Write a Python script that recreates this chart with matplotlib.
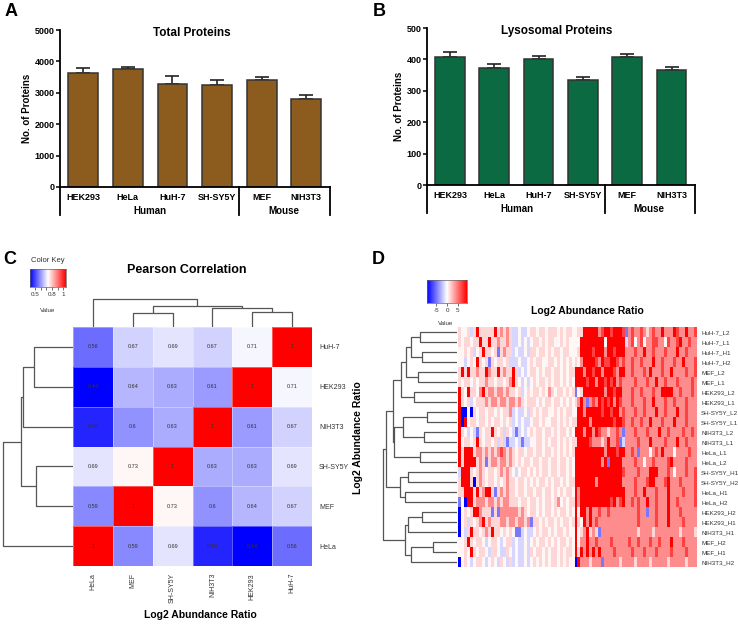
import numpy as np
import matplotlib.pyplot as plt
from matplotlib.colors import LinearSegmentedColormap
import matplotlib.transforms as mtransforms

W, H = 738, 624
plt.rcParams['font.family'] = ['Liberation Sans', 'DejaVu Sans']
fig = plt.figure(figsize=(W / 100, H / 100), dpi=100)

# ---------------- data ----------------
cells = ["HEK293", "HeLa", "HuH-7", "SH-SY5Y", "MEF", "NIH3T3"]
total_mean = [3630, 3760, 3290, 3260, 3420, 2810]
total_err = [150, 70, 240, 150, 70, 120]
lyso_mean = [407, 372, 400, 334, 408, 367]
lyso_err = [15, 12, 12, 11, 8, 10]

corr_rows = ["HuH-7", "HEK293", "NIH3T3", "SH-SY5Y", "MEF", "HeLa"]
corr_cols = ["HeLa", "MEF", "SH-SY5Y", "NIH3T3", "HEK293", "HuH-7"]
corr = [
    [0.56, 0.67, 0.69, 0.67, 0.71, 1],
    [0.44, 0.64, 0.63, 0.61, 1, 0.71],
    [0.48, 0.60, 0.63, 1, 0.61, 0.67],
    [0.69, 0.73, 1, 0.63, 0.63, 0.69],
    [0.59, 1, 0.73, 0.60, 0.64, 0.67],
    [1, 0.59, 0.69, 0.48, 0.44, 0.56],
]
# merges: (child a, child b, height); leaves 0..n-1 in display order
corr_top_merges = [(1, 2, 14), (4, 5, 15), (3, 7, 19.5), (6, 8, 21), (0, 9, 28)]
corr_left_merges = [(0, 1, 38.7), (6, 2, 49.7), (3, 4, 37), (7, 8, 52.3), (9, 5, 70.3)]

ratio_rows = ["HuH-7_L2", "HuH-7_L1", "HuH-7_H1", "HuH-7_H2", "MEF_L2", "MEF_L1",
              "HEK293_L2", "HEK293_L1", "SH-SY5Y_L2", "SH-SY5Y_L1", "NIH3T3_L2", "NIH3T3_L1",
              "HeLa_L1", "HeLa_L2", "SH-SY5Y_H1", "SH-SY5Y_H2", "HeLa_H1", "HeLa_H2",
              "HEK293_H2", "HEK293_H1", "NIH3T3_H1", "MEF_H2", "MEF_H1", "NIH3T3_H2"]
# colour level read per column (B strong blue ... R strong red)
levels = {'B': -9.5, 'b': -5.0, 'c': -1.5, '.': 0.3, 'p': 1.5, 'q': 4.3, 'r': 7.0, 'R': 9.5}
ratio_cells = [
    "p..pc" "p" "R" "ppppp" "R" "pqpqp" "cc.cc." "pp.pp.ppp.p.pp." ".pp" "RRRRR" "qr" "RRrRRRr" "b" "qrqqrqpqrqqRqqqRrqqRqqr",
    "p.pp.p" "pR" "pp" "R" "ppqppqp" "cc.c.c" ".pp.p.pp..p.p.." "..R" "RRRRRRR" "." "RRRRRR" "c" "qr.qr.qqrrqq.rqqrRqqrqq",
    "..p.pc.p" "R" "pp.p" "b" "pqpp" "c.cc.c" "pp.pp.p.pp.pp.." ".pR" "RRRrRRR" "q" "RRrRRR" "q" "qqrqqRqqrqqqrqqqRqqrqqq",
    "..c.p." "R" "p.p" "b" "p.pp.pc" "cc.cc." "p.pp..pp.p.p.p." "p.q" "RRRRrqR" "r" "rRRrqr" "q" "qrqqrqqqRqqrqqqrqqRqqqr",
    "pR" "p" "R" "ppqpp" "R" "qpp" "R" "pqpp" "R" "pc.c." "pp.p.pp.pp.p.pp" "RRR" "qRRrRRq" "R" "RRrqRR" "q" "qrqqqrqRqqqrqqRqqqqrqqr",
    "p.pp.p.ppqpp.pp.pq" "R" "p.c.c" ".p.pp.p.pp.p.p." "RRR" "RrRRqRR" "r" "RrRqrq" "q" "qqrqqqrqqRqqrqqqrqqqqrq",
    "R" "p.Rpp.q" "R" "pqqpqqpqp" "p.pc.p" ".pp.p.qp.pp.p.p" "b.p" "RRRRRRR" "q" "RRrRRq" "q" "qrqqrqqqrqqRRRRqqrqqqrq",
    "R" "p.pc.pp" "pqpqqpqqpq" "qpqp.p" "pp.p.pp.pp.p.p." "pqR" "qbqrqRr" "R" "rRqRrq" "q" "qrqqqrqqRqqqrqqrqqqrqqq",
    "R" "BB" "." "B" "p.pp.pp.p.ppq" "c.cc.c" "p.p.pp..p.p.pp." ".RR" "qRRRRRr" "R" "RrRRqr" "q" "qqrqqrqqqRqqrqqqRqqrqqq",
    "R" "B" "R" ".pp.pp.p.pp.p.p" "c.c.cc" ".pp.p..pp.p.p.p" "pRR" "RRqRRRR" "R" "RRrRRr" "q" "qrqqrqqRqqqrqqqRqqqrqqq",
    "R" "p.c.c" "b" "p.pp" "R" "p.pcp." "cbc.c." "p.pp.pp.p.pp.p." "RRR" "qRRqRrq" "q" "pqqrqb" "q" "qqrqqqrqqqRqqrqqqqrqqrq",
    "R" ".pp.p" "R" "p.pp.pcp" "cbcc.cbcc" "..pp.p.pp.p.p.p" "pRR" "RRrqqqp" "q" "Rqqrbc" "q" "qqqrqqqRqqqqrqqqRqqrqqq",
    "R" "p" "RRR" "pqqpqpqpqrqpq" "p.pp.p" "p.pp.pp.p.p.p.p" "RRR" "RRRRRRR" "q" "RRRrRR" "q" "qrqbqqq.qrqRqqq.qqqqrqq",
    "R" "p" "RRRR" "pqp" "b" "pqqpqqpq" "p.p.pp" ".pp.pp.pp.pp.p." "RRR" "RRRRRRq" "R" "bRRRRq" "q" "qqrqq.qqrqqqqrRqqqqrqqq",
    "c" "RRR" "p.pqp.pp.pqpqp" ".c.pp." "p.p.pp.pp.pp.p." "RRR" "RRRRRRR" "R" "RRRRRr" "q" "qqqrqqqRRRqqqrq.qqqrqqr",
    "p" "R" "RR" "p" "B" "pqp.pp.p.pqp" "p.pp.p" ".p.pp.p.pp.p.pp" "RRR" "RRRRqRR" "R" "RRRRRq" "q" "qqrqqqrRRqqqrRqqqrqqqqr",
    "pp" "RRR" "p" "R" "pq" "RR" "p" "b" "pqpqp" "p.pp.p" "p.pp.pp.p.p.pp." "RqR" "RRRRRRR" "R" "RRRRRR" "q" "qqrqqRqqqrqqqRqqqqrqqqr",
    "b" "." "B" "RR" "pqqqpqqpqpqqp" "pp.pp." "pp.p.pp.pq.p.pp" "RqR" "RRRRRRR" "R" "RrRqrR" "q" "qrqrqqRqqrqqqRqqrqqqqqr",
    "B" ".p.p" "RRq" "ppp" "b" "p" "b" "qqqq" "qqpqp." "pp.p.pp.p.pp.p." "R.R" "RqRqqrq" "q" "rqqqqq" "q" "qqqrqqbqqrqqqRqqqrqqqqq",
    "B" ".pcp.pqR" "pqpppqqpq" "qpqqpq" "b" "pp.p.pp.p.pp.p" "Rp." "RqRqrqq" "q" "qqqqqq" "q" "qqqrqqqqqrqqqRqqqqrqqqq",
    "B" ".cpRpp.pqp" "R" "pp.p.p" ".bbc.c" "c.p.pp.p.pp.p.." "R.p" "qRpqpbq" "q" "qqqqqq" "q" "qqqpqqqqpqqqqqqqqpqqqqp",
    "..p" "R" "p.pp.c.pp.c.pp" "c.cc.c" ".p.pp.p.p.pp.p." "R.q" "qRqqrqq" "q" "qrqqqq" "q" "rqqrqqqrqqrqqqRqqqrqqqq",
    "..p." "R" "p.pp.cpp.ccp." "c.cc.c" "p.pp.p.pp.p.pp." "RpR" "qRqRqRq" "q" "qqrqqq" "q" "qrqqqrqqqrqqqqrqqqqrqqq",
    "B" ".p.c.pp.c.p.cp.cp" "c.cc.c" ".p.p.p.pp.p.p.." "BRq" "qqpqqqb" "q" "qqqqpq" "q" "qqpqqqqpqqqqqpqqqqqpqqq",
]
ratio_merges = [(0, 1, 37), (2, 3, 34.7), (24, 25, 46.3), (4, 5, 38.7), (26, 27, 51.3),
                (6, 7, 42.7), (28, 29, 56), (8, 9, 30.3), (10, 11, 32.7), (31, 32, 53.7),
                (12, 13, 37), (33, 34, 62.7), (30, 35, 63.7), (14, 15, 48.7), (16, 17, 52),
                (37, 38, 57), (18, 19, 34.7), (40, 20, 48.7), (21, 22, 24.3), (42, 23, 46.3),
                (41, 43, 52), (36, 39, 71), (45, 44, 73.7)]

ratio = np.array([[levels[c] for c in row.ljust(80, '.')[:80]] for row in ratio_cells])

bwr = LinearSegmentedColormap.from_list("bwr2", ["#0000FF", "#FFFFFF", "#FF0000"])


def px_axes(x0, y0, x1, y1):
    return fig.add_axes([x0 / W, 1 - y1 / H, (x1 - x0) / W, (y1 - y0) / H])


def bar_panel(ax, vals, errs, color, title, ymax, step, title_x):
    x = np.arange(len(cells))
    ax.bar(x, vals, width=0.67, color=color, edgecolor='#333333', linewidth=1.1, zorder=2)
    ax.errorbar(x, vals, yerr=[np.zeros(len(vals)), errs], fmt='none', ecolor='#222222',
                elinewidth=1.2, capsize=5, capthick=1.2, zorder=1)
    ax.set_xlim(-0.52, 5.53)
    ax.set_ylim(0, ymax)
    ax.set_yticks(np.arange(0, ymax + 1, step))
    for s in ['top', 'right']:
        ax.spines[s].set_visible(False)
    for s in ['left', 'bottom']:
        ax.spines[s].set_linewidth(1.3)
    ax.tick_params(axis='y', length=3, width=1.1, labelsize=6.5, pad=1)
    for lab in ax.get_yticklabels():
        lab.set_fontweight('bold')
    ax.set_xticks(x)
    ax.set_xticklabels(cells, fontsize=6.5, fontweight='bold')
    ax.tick_params(axis='x', length=0, pad=4)
    ax.set_ylabel("No. of Proteins", fontsize=7, fontweight='bold', labelpad=2)
    ax.text(title_x, 0.98, title, transform=ax.transAxes, ha='center', va='center',
            fontsize=8.5, fontweight='bold')
    tr = mtransforms.blended_transform_factory(ax.transData, ax.transAxes)
    ax.text(1.5, -0.15, "Human", transform=tr, ha='center', va='center', fontsize=7, fontweight='bold')
    ax.text(4.5, -0.15, "Mouse", transform=tr, ha='center', va='center', fontsize=7, fontweight='bold')
    for xv in [-0.52, 3.5, 5.53]:
        ax.plot([xv, xv], [0, -0.18], transform=tr, color='black', lw=1.3, clip_on=False)


def dendro(ax, merges, n, orient):
    pos = list(np.arange(n) + 0.5)
    hgt = [0.0] * n
    for a, b, h in merges:
        xs = [pos[a], pos[a], pos[b], pos[b]]
        ys = [hgt[a], h, h, hgt[b]]
        if orient == 'left':
            ax.plot(ys, xs, color='#555555', lw=0.9, solid_capstyle='butt')
        else:
            ax.plot(xs, ys, color='#555555', lw=0.9, solid_capstyle='butt')
        pos.append((pos[a] + pos[b]) / 2)
        hgt.append(h)
    ax.axis('off')


# ---------------- A ----------------
axA = px_axes(60, 30, 330, 187)
bar_panel(axA, total_mean, total_err, '#8C5C1F', "Total Proteins", 5000, 1000, 0.49)
# ---------------- B ----------------
axB = px_axes(427, 28, 695, 185)
bar_panel(axB, lyso_mean, lyso_err, '#0B6A42', "Lysosomal Proteins", 500, 100, 0.485)

for lab, (x, y) in zip("ABCD", [(11, 11), (379, 11), (10, 259), (378, 259)]):
    fig.text(x / W, 1 - y / H, lab, fontsize=13, fontweight='bold', ha='center', va='center')

# ---------------- C ----------------
axC = px_axes(73, 327, 312, 566)
axC.pcolormesh(np.array(corr), cmap=bwr, vmin=0.44, vmax=1.0, edgecolors=(1, 1, 1, 0.35), linewidth=0.5)
axC.set_xlim(0, 6)
axC.set_ylim(6, 0)
for i in range(6):
    for j in range(6):
        v = corr[i][j]
        axC.text(j + 0.5, i + 0.5, "1" if v == 1 else ("%.2f" % v).rstrip('0'), ha='center', va='center',
                 fontsize=4, color='#333333')
axC.set_xticks(np.arange(6) + 0.5)
axC.set_xticklabels(corr_cols, rotation=90, fontsize=5, color='#333333', va='top')
axC.set_yticks(np.arange(6) + 0.5)
axC.set_yticklabels(corr_rows, fontsize=5, color='#333333')
axC.yaxis.tick_right()
axC.tick_params(length=0, pad=5)
for s in axC.spines.values():
    s.set_visible(False)

axCl = px_axes(0, 327, 73, 566)
dendro(axCl, corr_left_merges, 6, 'left')
axCl.set_ylim(6, 0)
axCl.set_xlim(73, 0)

axCt = px_axes(73, 290, 312, 327)
dendro(axCt, corr_top_merges, 6, 'top')
axCt.set_xlim(0, 6)
axCt.set_ylim(0, 37)

fig.text(187 / W, 1 - 270 / H, "Pearson Correlation", fontsize=9, fontweight='bold', ha='center', va='center')
fig.text(200 / W, 1 - 615 / H, "Log2 Abundance Ratio", fontsize=7.5, fontweight='bold', ha='center', va='center')
fig.text(358 / W, 1 - 438 / H, "Log2 Abundance Ratio", fontsize=7.5, fontweight='bold', ha='center',
         va='center', rotation=90)

# colour key C
axKc = px_axes(30, 269, 66, 287)
axKc.imshow(np.linspace(0, 1, 256)[None, :], cmap=bwr, aspect='auto', extent=[0.41, 1.05, 0, 1])
axKc.set_xlim(0.41, 1.05)
axKc.set_yticks([])
axKc.set_xticks([0.5, 0.6, 0.7, 0.8, 0.9, 1.0])
axKc.set_xticklabels(["0.5", "", "", "0.8", "", "1"], fontsize=4.5, color='#333333')
axKc.tick_params(axis='x', length=2, width=0.5, pad=1.5, color='#333333')
for s in axKc.spines.values():
    s.set_linewidth(0.5)
    s.set_color('#666666')
fig.text(48 / W, 1 - 260 / H, "Color Key", fontsize=5.5, ha='center', va='center', color='#333333')
fig.text(48 / W, 1 - 311 / H, "Value", fontsize=4.5, ha='center', va='center', color='#333333')

# ---------------- D ----------------
axD = px_axes(458, 327, 697, 567)
axD.imshow(ratio, cmap=bwr, vmin=-9.5, vmax=9.5, aspect='auto', interpolation='nearest',
           extent=[0, ratio.shape[1], len(ratio_rows), 0])
axD.set_xticks([])
axD.set_yticks(np.arange(len(ratio_rows)) + 0.5)
axD.set_yticklabels(ratio_rows, fontsize=4.5, color='#333333')
axD.yaxis.tick_right()
axD.tick_params(length=0, pad=3)
for s in axD.spines.values():
    s.set_visible(False)

axDl = px_axes(370, 327, 457, 567)
dendro(axDl, ratio_merges, len(ratio_rows), 'left')
axDl.set_ylim(len(ratio_rows), 0)
axDl.set_xlim(87, 0)

axKd = px_axes(427, 280, 467, 303)
axKd.imshow(np.linspace(0, 1, 256)[None, :], cmap=bwr, aspect='auto', extent=[-9.5, 9.5, 0, 1])
axKd.set_xlim(-9.5, 9.5)
axKd.set_yticks([])
axKd.set_xticks([-5, 0, 5])
axKd.set_xticklabels(["-5", "0", "5"], fontsize=4.5, color='#333333')
axKd.tick_params(axis='x', length=2, width=0.5, pad=1.5, color='#333333')
for s in axKd.spines.values():
    s.set_linewidth(0.5)
    s.set_color('#666666')
fig.text(446 / W, 1 - 323 / H, "Value", fontsize=4.5, ha='center', va='center', color='#333333')
fig.text(587 / W, 1 - 311 / H, "Log2 Abundance Ratio", fontsize=7.5, fontweight='bold', ha='center',
         va='center')

fig.savefig("out.png", dpi=100)
